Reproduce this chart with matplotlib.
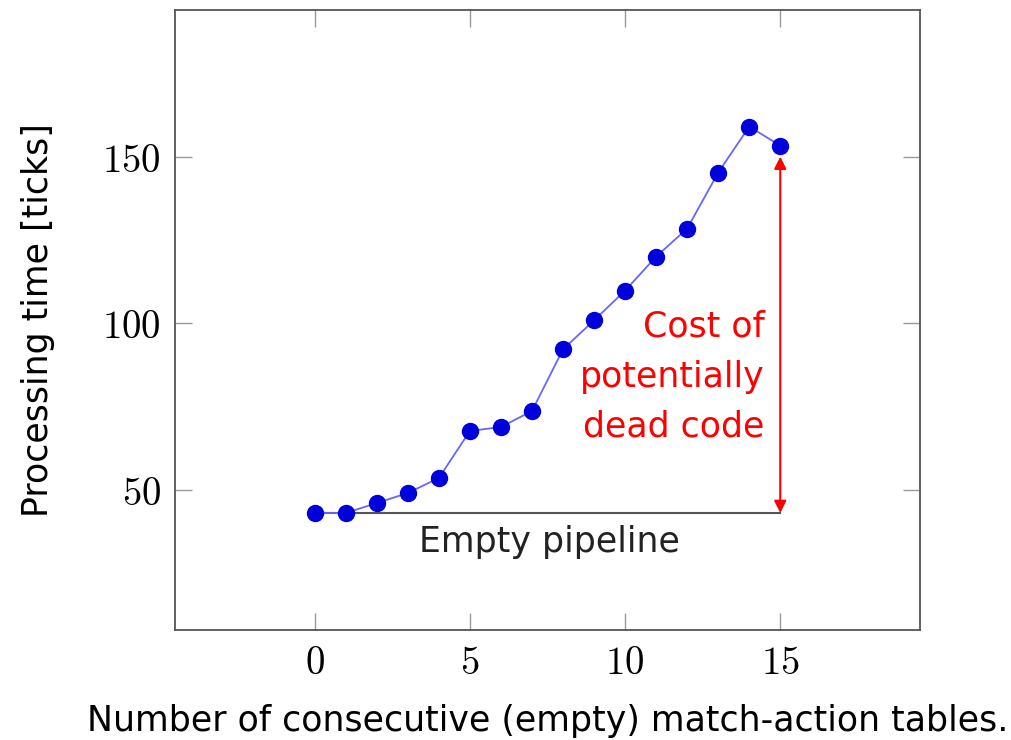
import matplotlib
matplotlib.use("Agg")
import matplotlib.pyplot as plt

# number of tables and the measured processing time
tables = list(range(16))
ticks = [43.1, 43.1, 46.1, 49.1, 53.6, 67.7, 68.9, 73.7, 92.2, 100.9,
         109.8, 120.0, 128.4, 145.2, 159.0, 153.3]
baseline = 43.1

plt.rcParams['mathtext.fontset'] = 'cm'

fig = plt.figure(figsize=(10.12, 7.40), dpi=100)
ax = fig.add_axes([0.173, 0.1486, 0.736, 0.838])

ax.plot(tables, ticks, color="#6666ff", linewidth=1.3, zorder=3)
ax.plot(tables, ticks, "o", color="#0000dd", markersize=11.5, zorder=4)

# empty pipeline line
ax.plot([tables[0], tables[-1]], [baseline, baseline], color="#555555", linewidth=1.5, zorder=2)
ax.text(7.55, baseline - 3.5, "Empty pipeline", ha="center", va="top",
        fontsize=25, family="DejaVu Sans", color="#222222")

# red arrow for the dead code cost
ax.annotate("", xy=(tables[-1], baseline), xytext=(tables[-1], 150),
            arrowprops=dict(arrowstyle="<|-|>", color="red", lw=1.5,
                            mutation_scale=18, shrinkA=0, shrinkB=0))
ax.text(14.5, 84, "Cost of\npotentially\ndead code", ha="right", va="center",
        color="red", fontsize=25, family="DejaVu Sans", linespacing=1.6)

ax.set_xlim(-4.5, 19.5)
ax.set_ylim(8, 194)
ax.set_xticks([0, 5, 10, 15])
ax.set_yticks([50, 100, 150])
ax.set_xticklabels([r"$%d$" % v for v in [0, 5, 10, 15]])
ax.set_yticklabels([r"$%d$" % v for v in [50, 100, 150]])
ax.tick_params(direction="in", length=12, width=1, color="#999999",
               labelsize=28, top=True, right=True, pad=10)
for s in ax.spines.values():
    s.set_color("#555555")
    s.set_linewidth(1.3)

ax.set_xlabel("Number of consecutive (empty) match-action tables.", fontsize=25,
              family="DejaVu Sans", labelpad=16)
ax.set_ylabel("Processing time [ticks]", fontsize=25, family="DejaVu Sans", labelpad=34)

fig.savefig("out.png", dpi=100)
